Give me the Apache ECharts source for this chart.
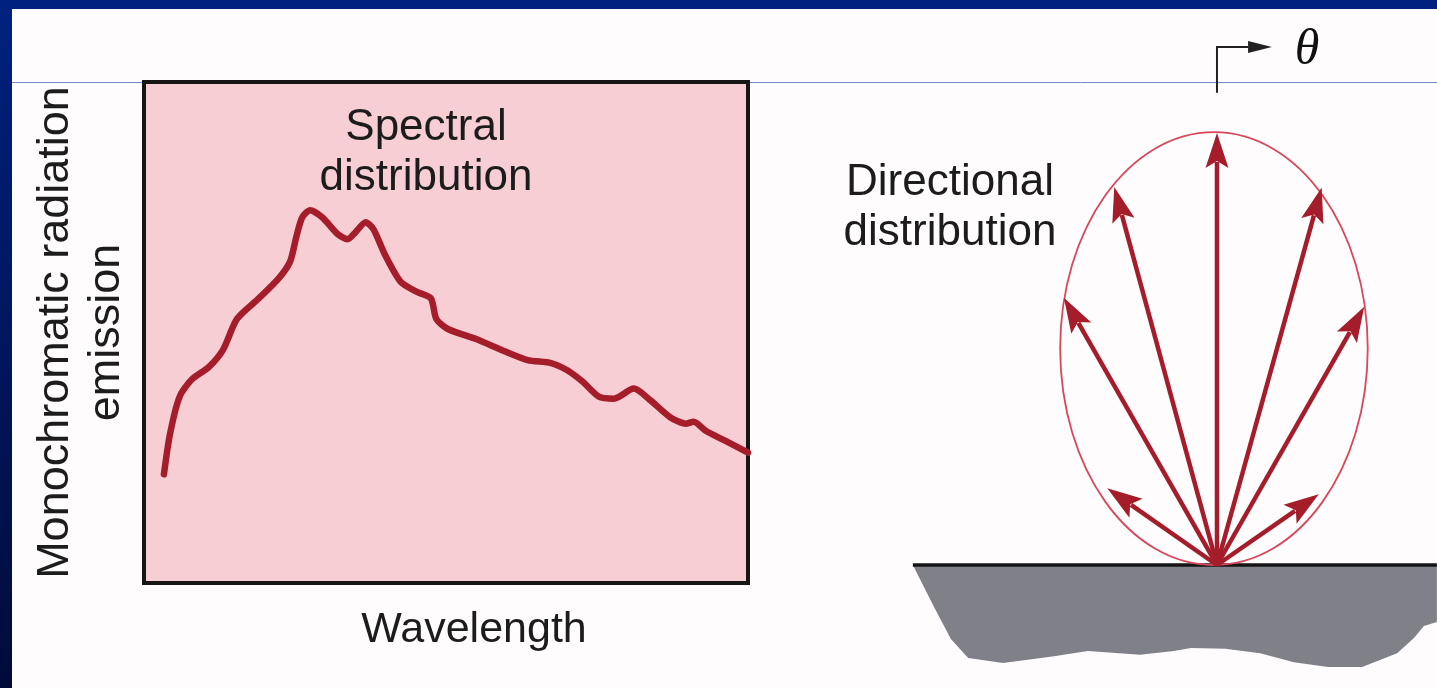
<!DOCTYPE html>
<html>
<head>
<meta charset="utf-8">
<title>Spectral and directional distribution</title>
<script src="https://cdn.jsdelivr.net/npm/echarts@6/dist/echarts.min.js"></script>
<style>
html, body { margin: 0; padding: 0; background: #fefcfc; }
#main { width: 1437px; height: 688px; }
</style>
</head>
<body>
<div id="main"></div>
<script>
// spectral curve, arbitrary units (0-100 on both axes)
var wavelength = [3.3, 4.3, 5.9, 7.9, 10.8, 13.1, 15.4, 19.0, 22.3, 24.2, 25.2, 26.2, 27.5, 29.5, 32.1, 33.7,
    35.0, 36.7, 38.0, 39.9, 42.5, 45.2, 47.5, 48.4, 50.3, 55.0, 59.6, 63.5, 67.4, 70.0, 72.6, 75.3,
    77.8, 81.1, 83.8, 87.1, 89.7, 91.0, 93.0, 96.2, 100];
var emission = [21.7, 29.7, 37.2, 40.6, 43.2, 46.6, 52.7, 56.8, 60.8, 64.2, 69.0, 73.0, 74.4, 73.0, 69.6, 68.6,
    70.0, 72.0, 70.6, 65.5, 60.1, 58.1, 56.8, 52.7, 50.7, 48.7, 46.3, 44.5, 43.9, 42.5, 40.2, 37.2,
    36.8, 38.8, 36.5, 33.1, 31.8, 32.2, 30.4, 28.4, 26.0];

// directional distribution: angle from the surface normal (deg) and relative intensity
var arrowAngle = [-55, -29.8, -15.2, 0, 15.5, 29.7, 55.2];
var arrowLength = [31.0, 71.3, 90.7, 100, 90.7, 68.8, 28.7];

// envelope: centre x, centre y, half width, half height
var envelope = [-0.7, 50.1, 35.6, 50.1];

// surface cross section
var surfaceX = [-70.4, -65.5, -61.6, -57.6, -49.5, -37.7, -29.9, -17.8, -10.0, -6.0, 1.9, 10.0, 17.8, 25.7,
    33.6, 41.7, 45.6, 47.9, 50.9, 50.9];
var surfaceY = [0, -9.7, -17.1, -21.5, -22.7, -21.1, -19.9, -20.8, -19.9, -19.2, -19.4, -20.4, -22.5, -23.6,
    -23.6, -20.4, -16.9, -14.1, -13.2, 0];

// theta pointer above the normal
var thetaX = [0, 0, 7.2, 12.7];
var thetaY = [109.3, 119.9, 119.9, 119.9];

var red = '#a51d2b';
var textColor = '#1c1c1c';
var font = 'Liberation Sans';

var chartDom = document.getElementById('main');
var myChart = echarts.init(chartDom);
var option;

function renderArrow(params, api) {
    var ang = api.value(0) * Math.PI / 180;
    var len = api.value(1);
    var o = api.coord([0, 0]);
    var t = api.coord([len * Math.sin(ang), len * Math.cos(ang)]);
    var dx = t[0] - o[0], dy = t[1] - o[1];
    var d = Math.sqrt(dx * dx + dy * dy);
    var ux = dx / d, uy = dy / d;
    var head = 35, half = 11.5;
    var bx = t[0] - ux * head, by = t[1] - uy * head;
    return {
        type: 'group',
        children: [
            {
                type: 'line',
                shape: { x1: o[0], y1: o[1], x2: bx + ux * 6, y2: by + uy * 6 },
                style: { stroke: red, lineWidth: 4.5 }
            },
            {
                type: 'polygon',
                shape: { points: [t, [bx - uy * half, by + ux * half], [bx + ux * 7, by + uy * 7], [bx + uy * half, by - ux * half]] },
                style: { fill: red }
            }
        ]
    };
}

function renderEnvelope(params, api) {
    var c = api.coord([api.value(0), api.value(1)]);
    var s = api.size([api.value(2), api.value(3)]);
    return {
        type: 'ellipse',
        shape: { cx: c[0], cy: c[1], rx: s[0], ry: s[1] },
        style: { fill: null, stroke: '#d8475a', lineWidth: 1.8 }
    };
}

function renderSurface(params, api) {
    var pts = surfaceX.map(function (x, i) { return api.coord([x, surfaceY[i]]); });
    var a = api.coord([surfaceX[0], 0]);
    var b = api.coord([surfaceX[surfaceX.length - 1], 0]);
    return {
        type: 'group',
        children: [
            { type: 'polygon', shape: { points: pts }, style: { fill: '#808089' } },
            { type: 'line', shape: { x1: a[0], y1: a[1], x2: b[0], y2: b[1] }, style: { stroke: '#151515', lineWidth: 3.5 } }
        ]
    };
}

function renderTheta(params, api) {
    var pts = thetaX.map(function (x, i) { return api.coord([x, thetaY[i]]); });
    var base = pts[2], tip = pts[3];
    return {
        type: 'group',
        children: [
            { type: 'polyline', shape: { points: [pts[0], pts[1], pts[2]] }, style: { stroke: '#222', lineWidth: 2, fill: null } },
            { type: 'polygon', shape: { points: [tip, [base[0], base[1] - 6], [base[0], base[1] + 6]] }, style: { fill: '#222' } }
        ]
    };
}

option = {
    animation: false,
    backgroundColor: '#fefcfc',
    textStyle: { fontFamily: font },
    title: [
        {
            text: 'Spectral\ndistribution',
            left: 426, top: 103, textAlign: 'center', padding: 0,
            textStyle: { fontSize: 44, lineHeight: 50, fontWeight: 'normal', color: textColor, fontFamily: font }
        },
        {
            text: 'Directional\ndistribution',
            left: 950, top: 158, textAlign: 'center', padding: 0,
            textStyle: { fontSize: 44, lineHeight: 50, fontWeight: 'normal', color: textColor, fontFamily: font }
        },
        {
            text: 'θ',
            left: 1307, top: 26, textAlign: 'center', padding: 0,
            textStyle: { fontSize: 50, lineHeight: 50, fontWeight: 'normal', fontStyle: 'italic', color: '#111', fontFamily: 'Liberation Serif' }
        }
    ],
    graphic: [
        { type: 'rect', z: -10, shape: { x: 0, y: 0, width: 1437, height: 9 }, style: { fill: '#00217f' } },
        {
            type: 'rect', z: -10, shape: { x: 0, y: 0, width: 12, height: 688 },
            style: { fill: new echarts.graphic.LinearGradient(0, 0, 0, 1, [{ offset: 0, color: '#00217f' }, { offset: 1, color: '#000b3a' }]) }
        },
        { type: 'line', z: -10, shape: { x1: 12, y1: 82.5, x2: 1437, y2: 82.5 }, style: { stroke: '#7489c6', lineWidth: 1 } }
    ],
    grid: [
        { left: 144, top: 82, width: 604, height: 501, show: true, backgroundColor: '#f8ced5', borderColor: '#161616', borderWidth: 4 },
        { left: 912, top: 0, right: 0, bottom: 0, show: false }
    ],
    xAxis: [
        {
            type: 'value', gridIndex: 0, min: 0, max: 100,
            axisLine: { show: false }, axisTick: { show: false }, axisLabel: { show: false }, splitLine: { show: false },
            name: 'Wavelength', nameLocation: 'middle', nameGap: 26,
            nameTextStyle: { fontSize: 43, color: textColor, padding: [0, 0, 0, 56], fontFamily: font }
        },
        {
            type: 'value', gridIndex: 1, min: -70.6, max: 50.93, show: false
        }
    ],
    yAxis: [
        {
            type: 'value', gridIndex: 0, min: 0, max: 100,
            axisLine: { show: false }, axisTick: { show: false }, axisLabel: { show: false }, splitLine: { show: false },
            name: 'Monochromatic radiation\nemission', nameLocation: 'middle', nameRotate: 90, nameGap: 12,
            nameTextStyle: { fontSize: 45, lineHeight: 51, color: textColor, fontFamily: font }
        },
        {
            type: 'value', gridIndex: 1, min: -28.47, max: 130.79, show: false
        }
    ],
    series: [
        {
            name: 'Spectral distribution',
            type: 'line',
            xAxisIndex: 0, yAxisIndex: 0,
            data: wavelength.map(function (w, i) { return [w, emission[i]]; }),
            smooth: 0.25,
            showSymbol: false,
            lineStyle: { color: red, width: 6.5, cap: 'round', join: 'round' }
        },
        {
            name: 'Surface',
            type: 'custom',
            xAxisIndex: 1, yAxisIndex: 1,
            data: [[0, 0]],
            renderItem: renderSurface,
            z: 2
        },
        {
            name: 'Envelope',
            type: 'custom',
            xAxisIndex: 1, yAxisIndex: 1,
            data: [envelope],
            renderItem: renderEnvelope,
            z: 3
        },
        {
            name: 'Directional distribution',
            type: 'custom',
            xAxisIndex: 1, yAxisIndex: 1,
            data: arrowAngle.map(function (a, i) { return [a, arrowLength[i]]; }),
            renderItem: renderArrow,
            z: 4
        },
        {
            name: 'Theta',
            type: 'custom',
            xAxisIndex: 1, yAxisIndex: 1,
            data: [[0, 0]],
            renderItem: renderTheta,
            z: 4
        }
    ]
};

option && myChart.setOption(option);
</script>
</body>
</html>
